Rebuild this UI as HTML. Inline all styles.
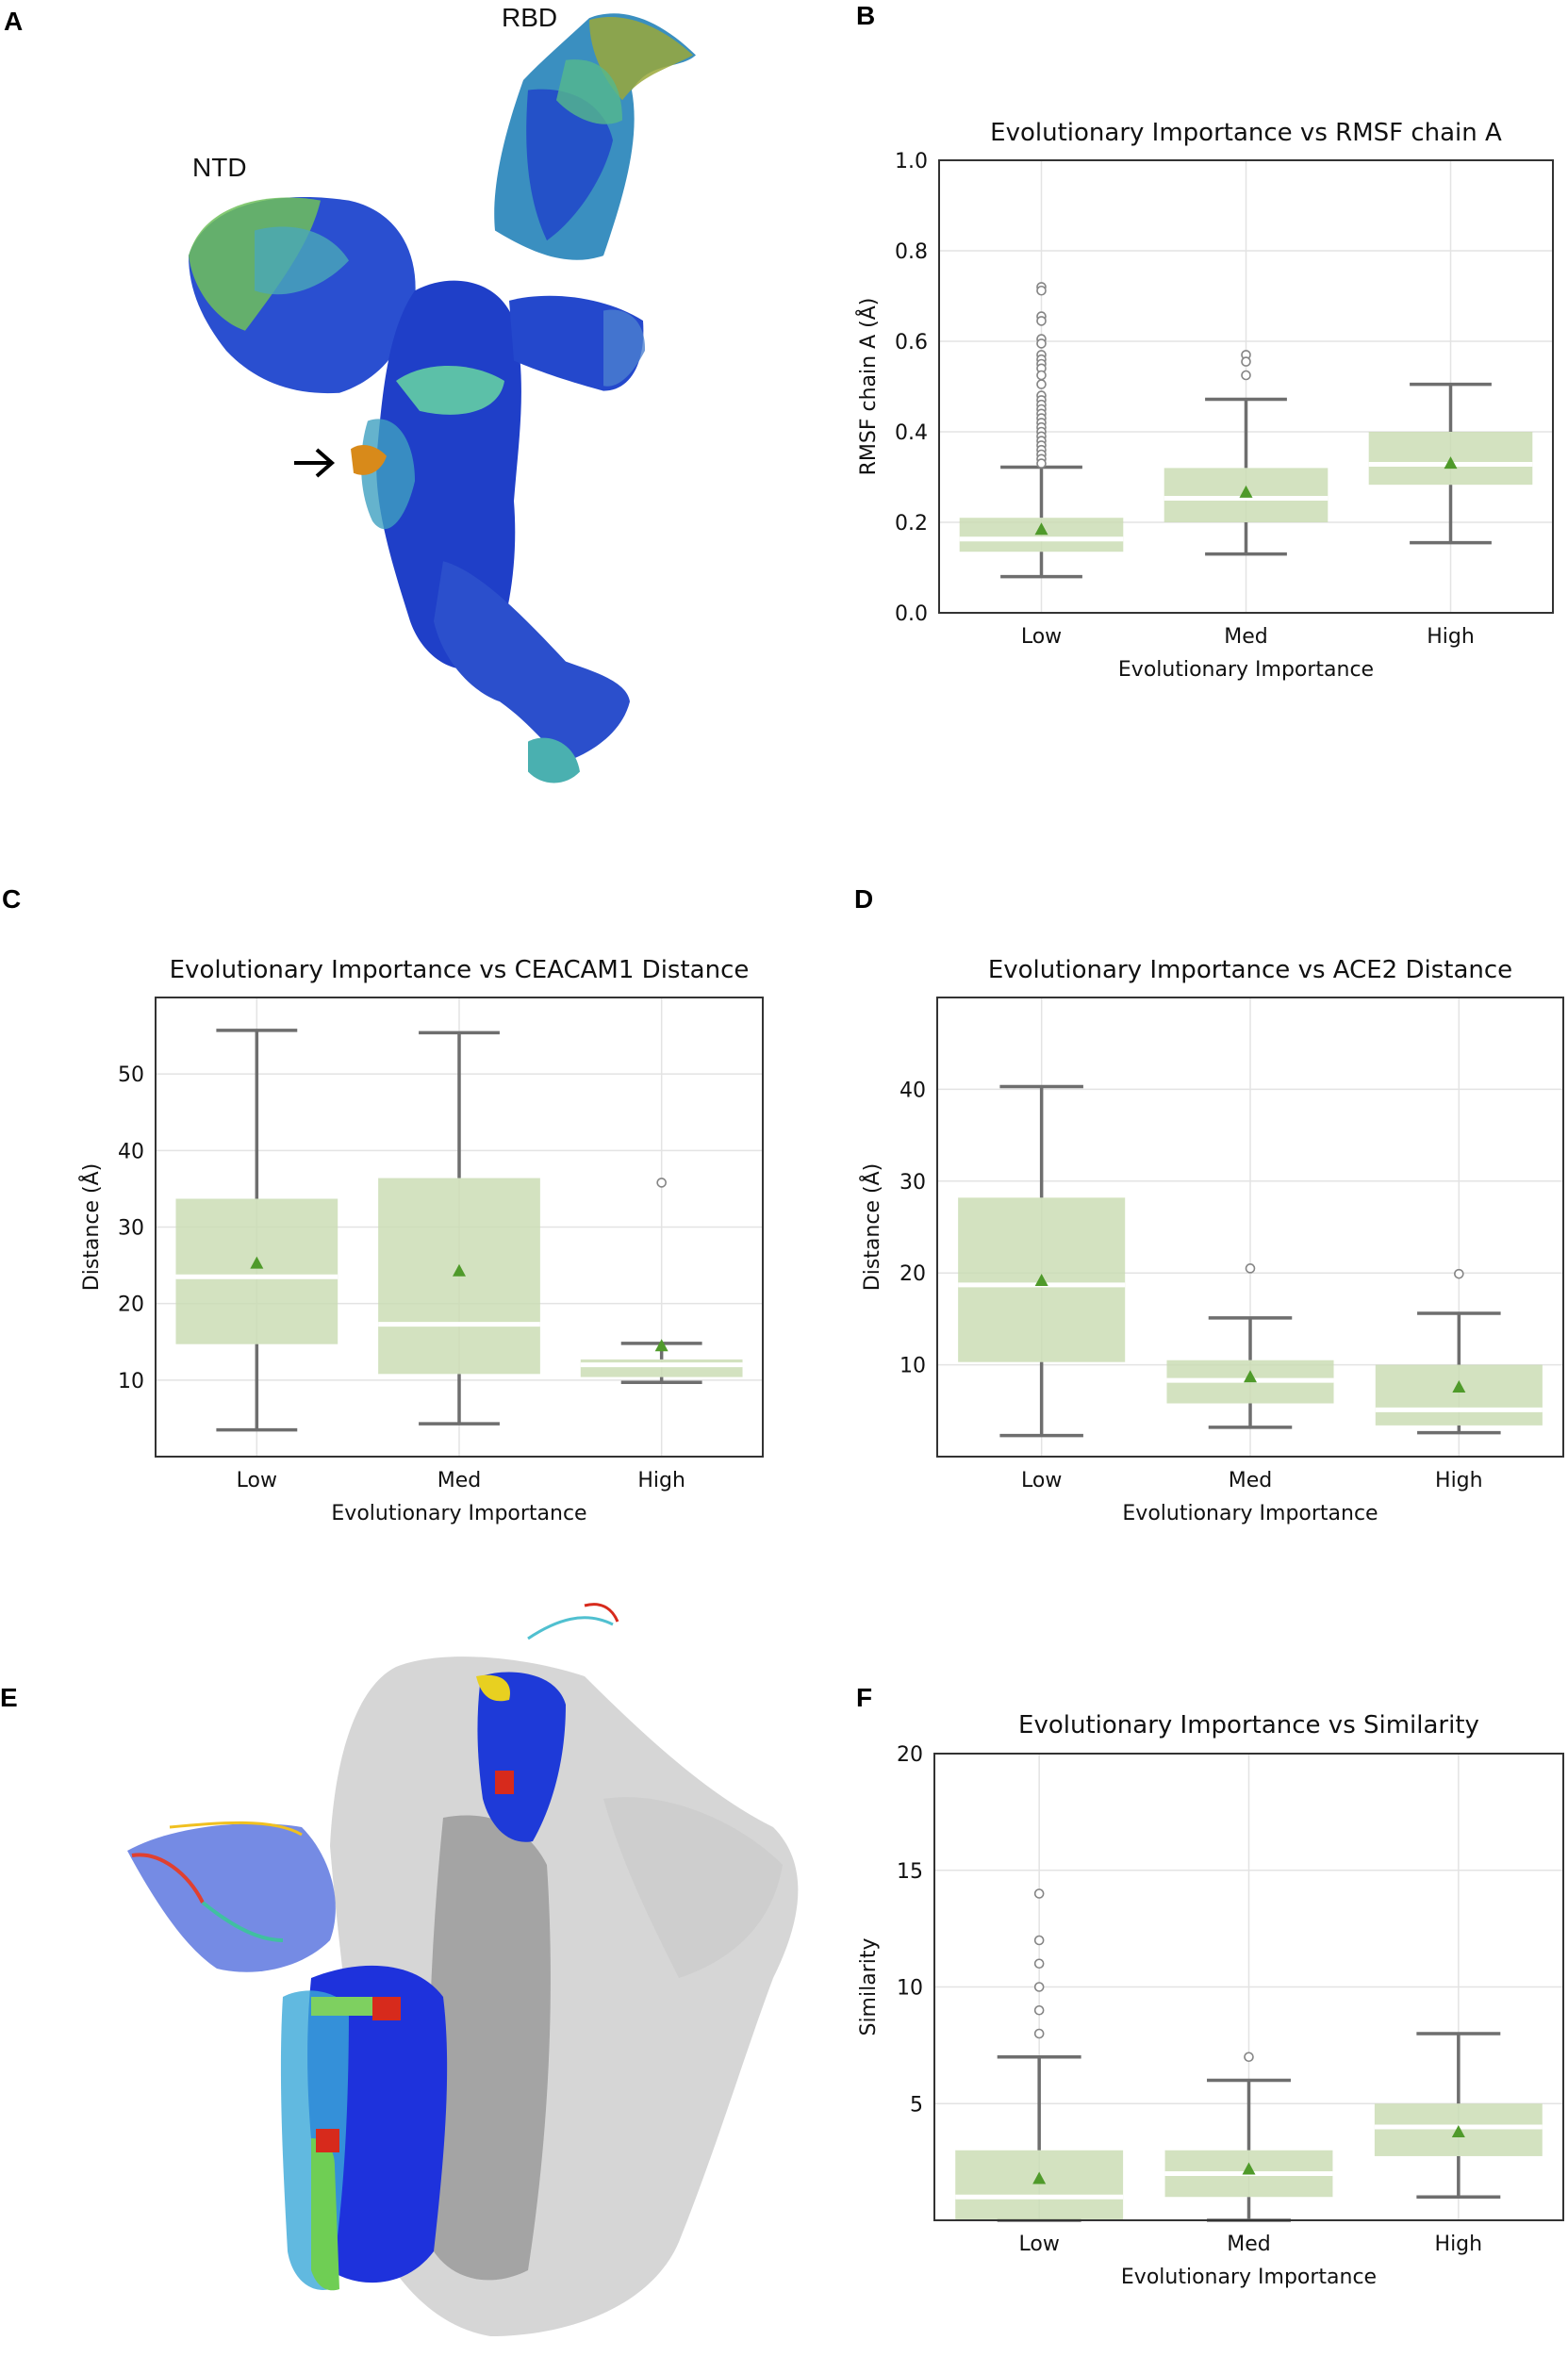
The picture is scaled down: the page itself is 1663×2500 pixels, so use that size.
<!DOCTYPE html>
<html>
<head>
<meta charset="utf-8">
<style>
html,body{margin:0;padding:0;background:#fff;}
body{width:1663px;height:2500px;position:relative;overflow:hidden;font-family:"DejaVu Sans","Liberation Sans",sans-serif;}
svg{position:absolute;left:0;top:0;}
</style>
</head>
<body>
<svg id="fig" width="1663" height="2500" viewBox="0 0 1663 2500" xmlns="http://www.w3.org/2000/svg">
  <!-- Panel letters -->
  <text x="4" y="32" font-family="Liberation Sans, sans-serif" font-weight="bold" font-size="28" fill="#000">A</text>
  <text x="908" y="26" font-family="Liberation Sans, sans-serif" font-weight="bold" font-size="28" fill="#000">B</text>
  <text x="2" y="963" font-family="Liberation Sans, sans-serif" font-weight="bold" font-size="28" fill="#000">C</text>
  <text x="906" y="963" font-family="Liberation Sans, sans-serif" font-weight="bold" font-size="28" fill="#000">D</text>
  <text x="0" y="1810" font-family="Liberation Sans, sans-serif" font-weight="bold" font-size="28" fill="#000">E</text>
  <text x="908" y="1810" font-family="Liberation Sans, sans-serif" font-weight="bold" font-size="28" fill="#000">F</text>

  <text x="532" y="28" font-family="Liberation Sans, sans-serif" font-size="28" fill="#111">RBD</text>
  <text x="204" y="187" font-family="Liberation Sans, sans-serif" font-size="28" fill="#111">NTD</text>

  <!-- Panel A: protein ensemble illustration -->
  <g transform="scale(1,1.063)">
    <path d="M625 18 C660 5 700 20 738 55 C720 70 690 60 670 90 C680 140 660 200 640 255 C600 268 560 250 525 230 C520 180 540 120 555 80 C575 60 600 40 625 18 Z" fill="#3a8fc0"/>
    <path d="M560 90 C600 85 640 100 650 140 C640 180 610 220 580 240 C560 200 555 150 560 90 Z" fill="#2451c8"/>
    <path d="M625 20 C660 10 700 25 735 55 C705 70 680 75 660 100 C640 80 625 50 625 20 Z" fill="#9aa83a" opacity="0.85"/>
    <path d="M600 60 C640 55 660 80 660 120 C640 130 610 120 590 100 Z" fill="#55b88c" opacity="0.8"/>
    <path d="M200 255 C220 200 300 190 370 200 C420 210 445 250 440 300 C430 350 400 380 360 392 C310 395 270 380 240 350 C215 320 200 290 200 255 Z" fill="#2a4fd0"/>
    <path d="M200 255 C215 205 280 190 340 200 C330 240 300 280 260 330 C230 320 205 290 200 255 Z" fill="#6fbf5a" opacity="0.85"/>
    <path d="M270 230 C310 220 350 230 370 260 C340 290 300 300 270 290 Z" fill="#4aa8b8" opacity="0.8"/>
    <path d="M440 290 C480 270 530 280 545 320 C560 380 550 440 545 500 C550 560 540 620 520 660 C490 680 450 660 435 620 C415 560 395 500 400 450 C405 400 410 330 440 290 Z" fill="#1f3fc8"/>
    <path d="M420 380 C450 360 500 360 535 380 C530 410 490 420 445 410 Z" fill="#5cc0a8"/>
    <path d="M390 420 C420 410 440 440 440 480 C430 520 410 540 395 520 C380 490 380 450 390 420 Z" fill="#3fa0c0" opacity="0.8"/>
    <path d="M372 448 C385 440 400 445 410 455 C405 470 390 478 375 472 Z" fill="#d88a1a"/>
    <path d="M540 300 C580 290 640 295 682 320 C685 360 670 390 640 390 C600 380 570 370 545 360 Z" fill="#2448cc"/>
    <path d="M640 310 C665 305 685 320 684 350 C670 375 655 388 640 385 Z" fill="#4b7fd0" opacity="0.8"/>
    <path d="M470 560 C510 570 560 620 600 660 C630 670 665 680 668 700 C660 730 630 750 600 760 C575 740 560 720 530 700 C500 690 470 660 460 620 Z" fill="#2b4fcc"/>
    <path d="M560 740 C580 730 610 740 615 770 C600 785 575 785 560 770 Z" fill="#4ab0b0"/>
  </g>
  <line x1="312" y1="491" x2="350" y2="491" stroke="#000" stroke-width="4"/>
  <polyline points="336,477 352,491 336,505" fill="none" stroke="#000" stroke-width="4"/>

  <!-- Panel E: protein trimer illustration -->
  <g transform="translate(0,-22)">
    <path d="M420 1790 C470 1770 560 1780 620 1800 C700 1880 760 1930 820 1960 C860 2000 850 2060 820 2120 C790 2200 760 2300 720 2400 C690 2470 600 2500 520 2500 C460 2490 420 2440 400 2400 C380 2250 360 2100 350 1980 C355 1880 380 1810 420 1790 Z" fill="#b4b4b4" opacity="0.55"/>
    <path d="M470 1950 C520 1940 560 1960 580 2000 C590 2150 580 2300 560 2430 C520 2450 480 2440 460 2410 C450 2250 455 2100 470 1950 Z" fill="#8e8e8e" opacity="0.7"/>
    <path d="M640 1930 C700 1920 780 1950 830 2000 C820 2060 780 2100 720 2120 C690 2060 660 2000 640 1930 Z" fill="#c8c8c8" opacity="0.6"/>
    <path d="M135 1985 C180 1960 260 1950 320 1960 C350 1990 365 2040 350 2080 C320 2110 270 2120 230 2110 C200 2090 170 2050 135 1985 Z" fill="#3a5ad8" opacity="0.7"/>
    <path d="M140 1990 C170 1985 200 2010 215 2040" fill="none" stroke="#e04030" stroke-width="4"/>
    <path d="M215 2040 C240 2060 270 2080 300 2080" fill="none" stroke="#40c0a0" stroke-width="4"/>
    <path d="M180 1960 C230 1955 290 1950 320 1968" fill="none" stroke="#f0c020" stroke-width="3"/>
    <path d="M330 2120 C380 2100 440 2100 470 2140 C480 2220 470 2320 460 2410 C430 2450 380 2450 350 2430 C330 2330 320 2220 330 2120 Z" fill="#1e32dc"/>
    <path d="M300 2140 C320 2130 350 2130 370 2150 C370 2300 360 2390 350 2450 C330 2455 310 2440 305 2410 C300 2320 295 2220 300 2140 Z" fill="#3aa7d8" opacity="0.8"/>
    <path d="M330 2290 C345 2290 355 2300 355 2320 L360 2450 C345 2455 335 2445 330 2430 Z" fill="#6fce54"/>
    <path d="M335 2280 L360 2280 L360 2305 L335 2305 Z" fill="#d72a1c"/>
    <path d="M395 2140 L425 2140 L425 2165 L395 2165 Z" fill="#d72a1c"/>
    <path d="M330 2140 L395 2140 L395 2160 L330 2160 Z" fill="#7ed060"/>
    <path d="M510 1800 C540 1790 590 1795 600 1830 C600 1890 585 1940 565 1975 C540 1980 520 1960 512 1930 C505 1880 505 1840 510 1800 Z" fill="#1e3ad8"/>
    <path d="M505 1800 C530 1795 545 1805 540 1825 C520 1830 510 1820 505 1800 Z" fill="#e8d020"/>
    <path d="M525 1900 L545 1900 L545 1925 L525 1925 Z" fill="#d72a1c"/>
    <path d="M560 1760 C590 1740 620 1730 650 1745" fill="none" stroke="#50c0d0" stroke-width="3"/>
    <path d="M620 1725 C640 1720 650 1730 655 1742" fill="none" stroke="#d72a1c" stroke-width="3"/>
  </g>
</svg>

<script>
// ---------------- Panel B data: RMSF chain A ----------------
var catsB = ["Low", "Med", "High"];
var q1B = [0.135, 0.200, 0.283];
var q3B = [0.210, 0.320, 0.400];
var medB = [0.163, 0.253, 0.328];
var meanB = [0.185, 0.267, 0.331];
var whLoB = [0.080, 0.130, 0.155];
var whHiB = [0.322, 0.472, 0.505];
var outB = [
  [0.720,0.712,0.655,0.645,0.605,0.595,0.570,0.560,0.550,0.540,0.525,0.505,0.480,0.470,0.460,0.450,0.440,0.430,0.420,0.410,0.400,0.390,0.380,0.370,0.360,0.350,0.340,0.330],
  [0.570,0.555,0.525],
  []
];
var ticksB = [0.0, 0.2, 0.4, 0.6, 0.8, 1.0];
var tickLabB = ["0.0", "0.2", "0.4", "0.6", "0.8", "1.0"];

// ---------------- Panel C data: CEACAM1 distance ----------------
var catsC = ["Low", "Med", "High"];
var q1C = [14.7, 10.8, 10.4];
var q3C = [33.7, 36.4, 12.7];
var medC = [23.5, 17.3, 12.0];
var meanC = [25.3, 24.3, 14.5];
var whLoC = [3.5, 4.3, 9.7];
var whHiC = [55.7, 55.4, 14.8];
var outC = [[], [], [35.8]];
var ticksC = [10, 20, 30, 40, 50];
var tickLabC = ["10", "20", "30", "40", "50"];

// ---------------- Panel D data: ACE2 distance ----------------
var catsD = ["Low", "Med", "High"];
var q1D = [10.3, 5.8, 3.4];
var q3D = [28.2, 10.5, 10.0];
var medD = [18.7, 8.3, 5.1];
var meanD = [19.2, 8.7, 7.6];
var whLoD = [2.3, 3.2, 2.6];
var whHiD = [40.3, 15.1, 15.6];
var outD = [[], [20.5], [19.9]];
var ticksD = [10, 20, 30, 40];
var tickLabD = ["10", "20", "30", "40"];

// ---------------- Panel F data: Similarity ----------------
var catsF = ["Low", "Med", "High"];
var q1F = [0, 1, 2.75];
var q3F = [3, 3, 5];
var medF = [1, 2, 4];
var meanF = [1.8, 2.2, 3.8];
var whLoF = [0, 0, 1];
var whHiF = [7, 6, 8];
var outF = [[8, 9, 10, 11, 12, 14], [7], []];
var ticksF = [5, 10, 15, 20];
var tickLabF = ["5", "10", "15", "20"];

var NS = "http://www.w3.org/2000/svg";
var fig = document.getElementById("fig");

function mk(tag, attrs, parent) {
  var e = document.createElementNS(NS, tag);
  for (var k in attrs) e.setAttribute(k, attrs[k]);
  (parent || fig).appendChild(e);
  return e;
}

function drawChart(cfg) {
  var g = mk("g", {});
  
  
  var L = cfg.left, R = cfg.right, T = cfg.top, B = cfg.bottom;
  function yS(v) { return B - (v - cfg.ymin) / (cfg.ymax - cfg.ymin) * (B - T); }
  var band = (R - L) / cfg.cats.length;
  function xS(i) { return L + (i + 0.5) * band; }
  var bw = band * 0.8, cw = band * 0.4;

  for (var t = 0; t < cfg.ticks.length; t++) {
    var gy = yS(cfg.ticks[t]);
    var gl = mk("line", {x1: L, x2: R, y1: gy, y2: gy, stroke: "#e3e3e3", "stroke-width": 1.5}, g);
    
    
    var tl = mk("text", {x: L - 12, y: gy + 8, "text-anchor": "end", "font-size": 22, fill: "#111"}, g);
    
    
    tl.textContent = cfg.tickLabels[t];
  }
  for (var i = 0; i < cfg.cats.length; i++) {
    var vx = xS(i);
    var vl = mk("line", {x1: vx, x2: vx, y1: T, y2: B, stroke: "#e3e3e3", "stroke-width": 1.5}, g);
    
    
  }
  for (var i = 0; i < cfg.cats.length; i++) {
    var cx = xS(i);
    var yq1 = yS(cfg.q1[i]), yq3 = yS(cfg.q3[i]);
    var wl = mk("line", {x1: cx, x2: cx, y1: yS(cfg.whLo[i]), y2: yq1, stroke: "#6e6e6e", "stroke-width": 3.5}, g);
    
    
    var wh = mk("line", {x1: cx, x2: cx, y1: yS(cfg.whHi[i]), y2: yq3, stroke: "#6e6e6e", "stroke-width": 3.5}, g);
    
    
    var c1 = mk("line", {x1: cx - cw / 2, x2: cx + cw / 2, y1: yS(cfg.whLo[i]), y2: yS(cfg.whLo[i]), stroke: "#6e6e6e", "stroke-width": 3.5}, g);
    
    
    var c2 = mk("line", {x1: cx - cw / 2, x2: cx + cw / 2, y1: yS(cfg.whHi[i]), y2: yS(cfg.whHi[i]), stroke: "#6e6e6e", "stroke-width": 3.5}, g);
    
    
    var box = mk("rect", {x: cx - bw / 2, y: yq3, width: bw, height: Math.max(1, yq1 - yq3), fill: "#c9dcb2", "fill-opacity": 0.82}, g);
    
    
    var my = yS(cfg.med[i]);
    var md = mk("line", {x1: cx - bw / 2, x2: cx + bw / 2, y1: my, y2: my, stroke: "#ffffff", "stroke-width": 5}, g);
    
    
    var o = cfg.out[i];
    for (var k = 0; k < o.length; k++) {
      var oc = mk("circle", {cx: cx, cy: yS(o[k]), r: 4.5, fill: "#fff", stroke: "#858585", "stroke-width": 1.6}, g);
      
      
    }
    var mY = yS(cfg.mean[i]);
    var tri = mk("polygon", {points: (cx - 7) + "," + (mY + 6) + " " + (cx + 7) + "," + (mY + 6) + " " + cx + "," + (mY - 7), fill: "#4f9a2a"}, g);
    
    
    var xl = mk("text", {x: cx, y: B + 32, "text-anchor": "middle", "font-size": 22, fill: "#111"}, g);
    
    
    xl.textContent = cfg.cats[i];
  }
  var fr = mk("rect", {x: L, y: T, width: R - L, height: B - T, fill: "none", stroke: "#333", "stroke-width": 2}, g);
  
  
  var ti = mk("text", {x: (L + R) / 2, y: cfg.titleY + 9, "text-anchor": "middle", "font-size": 26, fill: "#111"}, g);
  
  
  ti.textContent = cfg.title;
  var xt = mk("text", {x: (L + R) / 2, y: B + 67, "text-anchor": "middle", "font-size": 22, fill: "#111"}, g);
  
  
  xt.textContent = "Evolutionary Importance";
  var yx = cfg.ylabX, yy = (T + B) / 2;
  var yt = mk("text", {x: yx, y: yy, "text-anchor": "middle", "font-size": 22, fill: "#111", transform: "rotate(-90 " + yx + " " + yy + ")"}, g);
  
  
  yt.textContent = cfg.ylabel;
}

drawChart({name: "chart-rmsf", left: 996, right: 1647, top: 170, bottom: 650, ymin: 0, ymax: 1.0,
  cats: catsB, q1: q1B, q3: q3B, med: medB, mean: meanB, whLo: whLoB, whHi: whHiB, out: outB,
  ticks: ticksB, tickLabels: tickLabB, title: "Evolutionary Importance vs RMSF chain A", titleY: 140,
  ylabel: "RMSF chain A (Å)", ylabX: 928});

drawChart({name: "chart-ceacam1", left: 165, right: 809, top: 1058, bottom: 1545, ymin: 0, ymax: 60,
  cats: catsC, q1: q1C, q3: q3C, med: medC, mean: meanC, whLo: whLoC, whHi: whHiC, out: outC,
  ticks: ticksC, tickLabels: tickLabC, title: "Evolutionary Importance vs CEACAM1 Distance", titleY: 1028,
  ylabel: "Distance (Å)", ylabX: 104});

drawChart({name: "chart-ace2", left: 994, right: 1658, top: 1058, bottom: 1545, ymin: 0, ymax: 50,
  cats: catsD, q1: q1D, q3: q3D, med: medD, mean: meanD, whLo: whLoD, whHi: whHiD, out: outD,
  ticks: ticksD, tickLabels: tickLabD, title: "Evolutionary Importance vs ACE2 Distance", titleY: 1028,
  ylabel: "Distance (Å)", ylabX: 932});

drawChart({name: "chart-similarity", left: 991, right: 1658, top: 1860, bottom: 2355, ymin: 0, ymax: 20,
  cats: catsF, q1: q1F, q3: q3F, med: medF, mean: meanF, whLo: whLoF, whHi: whHiF, out: outF,
  ticks: ticksF, tickLabels: tickLabF, title: "Evolutionary Importance vs Similarity", titleY: 1829,
  ylabel: "Similarity", ylabX: 928});
</script>
</body>
</html>
